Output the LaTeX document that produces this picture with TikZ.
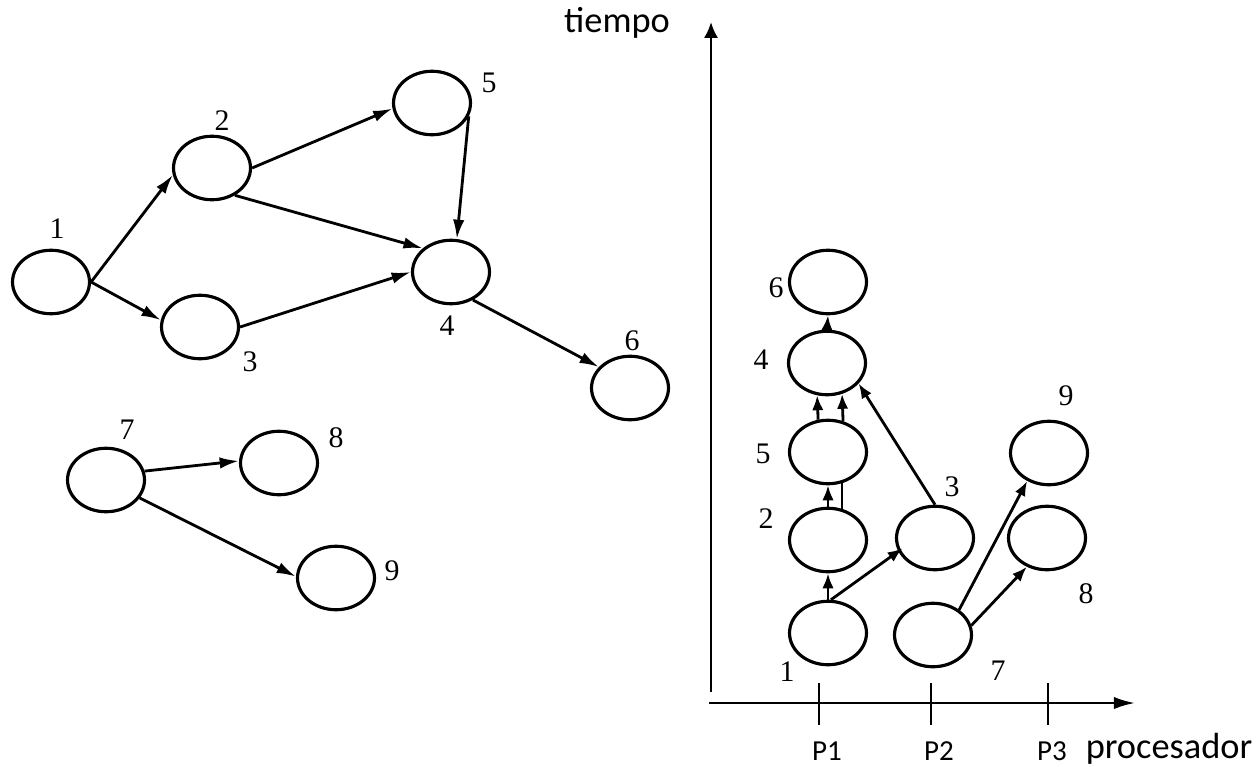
\documentclass[tikz,border=0pt]{standalone}
\usepackage{fontspec}
\usetikzlibrary{shapes.geometric,arrows.meta}
\newfontfamily\numfont{Liberation Serif}
\newfontfamily\labfont{Carlito}
\begin{document}
\begin{tikzpicture}[x=0.02cm,y=-0.02cm,
  task/.style={ellipse,draw,line width=1.8pt,minimum width=1.54cm,minimum height=1.27cm,inner sep=0pt},
  num/.style={font=\numfont\fontsize{17}{20}\selectfont,inner sep=0pt},
  arr/.style={line width=1.6pt,-{Latex[length=11pt,width=6.5pt]}},
  sarr/.style={line width=1.6pt,-{Latex[length=8.5pt,width=6.5pt]}},
  plain/.style={line width=1.6pt},
  axis/.style={line width=1.4pt},
  sans/.style={font=\labfont\fontsize{20.7}{24}\selectfont,inner sep=0pt,anchor=base},
  plab/.style={font=\labfont\fontsize{16.5}{19}\selectfont,inner sep=0pt,anchor=base}]
\useasboundingbox (0,0) rectangle (1257,767);

% ---------- left graph ----------
\node[task] (l1) at (51,282) {};
\node[task] (l2) at (212,168) {};
\node[task] (l5) at (432,103) {};
\node[task] (l3) at (200,327) {};
\node[task] (l4) at (451,272) {};
\node[task] (l6) at (630,388) {};
\node[task] (l7) at (106,480) {};
\node[task] (l8) at (279,463) {};
\node[task] (l9) at (336,578) {};

\node[num] (tl1) at (57,229) {1};
\node[num] (tl2) at (222,121) {2};
\node[num] (tl5) at (489,83) {5};
\node[num] (tl4) at (447,326) {4};
\node[num] (tl3) at (250,362) {3};
\node[num] (tl6) at (632,341) {6};
\node[num] (tl7) at (127,430) {7};
\node[num] (tl8) at (336,438) {8};
\node[num] (tl9) at (392,571) {9};

\draw[arr] (l1.east) -- (l2.190);
\draw[arr] (l1.east) -- (l3.170);
\draw[arr] (l2.east) -- (l5.188);
\draw[arr] (l2.-50) -- (l4.140);
\draw[arr] (l3.east) -- (l4.west);
\draw[arr] (l5.-20) -- (l4.80);
\draw[arr] (l4.-52) -- (l6.146);
\draw[arr] (l7.13) -- (l8.177);
\draw[arr] (l7.-28) -- (l9.178);

% ---------- axes ----------
\coordinate (vbot) at (711,692);
\coordinate (vtop) at (711,22);
\coordinate (hl) at (709,703);
\coordinate (hr) at (1135,703);
\draw[axis,-{Latex[length=9pt,width=8pt]}] (vbot) -- (vtop);
\draw[axis,-{Latex[length=12pt,width=7pt]}] (hl) -- (hr);
\coordinate (p1a) at (819,683); \coordinate (p1b) at (819,725);
\coordinate (p2a) at (931,683); \coordinate (p2b) at (931,725);
\coordinate (p3a) at (1048,683); \coordinate (p3b) at (1048,725);
\draw[axis] (p1a) -- (p1b);
\draw[axis] (p2a) -- (p2b);
\draw[axis] (p3a) -- (p3b);

\node[sans] (tiempo) at (617,33) {tiempo};
\node[sans] (proc) at (1169,758) {procesador};
\node[plab] (P1) at (827,760) {P1};
\node[plab] (P2) at (939,760) {P2};
\node[plab] (P3) at (1052,760) {P3};

% ---------- right schedule ----------
\node[task] (r6) at (828,282) {};
\node[task] (r4) at (827,363) {};
\node[task] (r5) at (828,452) {};
\node[task] (r2) at (828,540) {};
\node[task] (r1) at (828,633) {};
\node[task] (r3) at (935,538) {};
\node[task] (r7) at (933,635) {};
\node[task] (r9) at (1049,453) {};
\node[task] (r8) at (1047,538) {};

\node[num] (tr6) at (776,288) {6};
\node[num] (tr4) at (761,360) {4};
\node[num] (tr5) at (763,454) {5};
\node[num] (tr2) at (766,519) {2};
\node[num] (tr1) at (787,672) {1};
\node[num] (tr3) at (952,487) {3};
\node[num] (tr9) at (1066,396) {9};
\node[num] (tr8) at (1086,594) {8};
\node[num] (tr7) at (998,671) {7};

\draw[sarr] (r1.north) -- (r2.south);
\draw[sarr,shorten >=-3pt] (r1.85) -- (r3.200);
\draw[sarr] (r2.north) -- (r5.south);
\draw[plain] (r2.66) -- (r5.-66);
\draw[sarr] (r5.107) -- (r4.-107);
\draw[sarr] (r5.64) -- (r4.-64);
\draw[sarr] (r3.north) -- (r4.-33);
\draw[sarr] (r4.north) -- (r6.south);
\draw[sarr] (r7.44) -- (r9.232);
\draw[sarr] (r7.14) -- (r8.235);
\end{tikzpicture}
\end{document}
